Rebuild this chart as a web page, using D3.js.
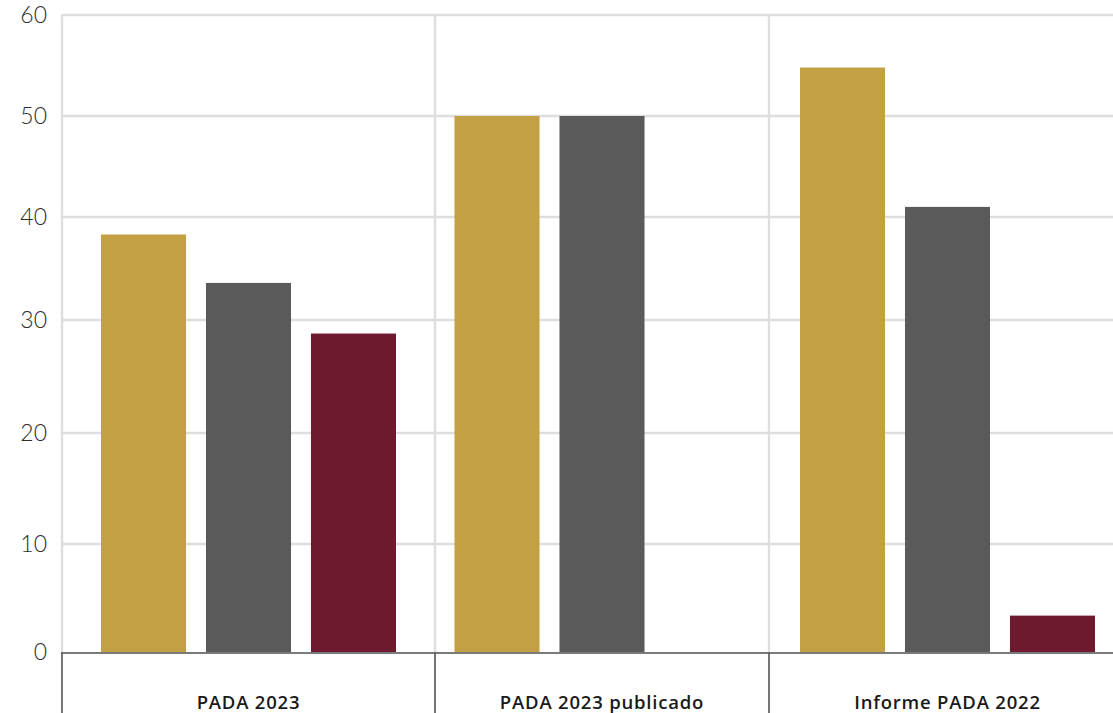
<!DOCTYPE html>
<html>
<head>
<meta charset="utf-8">
<script src="https://cdn.jsdelivr.net/npm/d3@7"></script>
<style>
  html, body { margin: 0; padding: 0; background: #fff; overflow: hidden; }
  svg { display: block; }
</style>
</head>
<body>
<svg id="chart" width="1113" height="713"></svg>
<script>
// Categories and the three series drawn in each group
const categories = ["PADA 2023", "PADA 2023 publicado", "Informe PADA 2022"];
const series1 = [38.3, 50, 54.8];
const series2 = [33.6, 50, 41];
const series3 = [28.8, 0, 3.4];
const seriesColors = ["#C4A044", "#5A5A5A", "#6E1A2E"];
const yTicks = [0, 10, 20, 30, 40, 50, 60];

const W = 1113, H = 713;
const svg = d3.select("#chart");

// Vertical value scale (piecewise, one stop per tick)
const y = d3.scaleLinear()
  .domain(yTicks)
  .range([652.5, 544, 433, 320, 217, 116, 15]);

// Category boundaries along x
const edge = d3.scaleLinear().domain([0, 1, 2, 3]).range([62, 435, 769, 1126]);
const plotLeft = edge(0);
const center = i => (edge(i) + edge(i + 1)) / 2;

// Bars inside each category
const inner = d3.scaleBand().domain([0, 1, 2]).range([-147.5, 147.5])
  .paddingInner(0.19).paddingOuter(0);

const rows = categories.map((c, i) => ({ cat: c, i, vals: [series1[i], series2[i], series3[i]] }));

// Horizontal grid
svg.append("g")
  .selectAll("line")
  .data(yTicks.filter(t => t > 0))
  .join("line")
  .attr("x1", plotLeft).attr("x2", W)
  .attr("y1", d => y(d)).attr("y2", d => y(d))
  .attr("stroke", "#dedede").attr("stroke-width", 2.4);

// Vertical grid at category boundaries
svg.append("g")
  .selectAll("line")
  .data([0, 1, 2])
  .join("line")
  .attr("x1", d => edge(d)).attr("x2", d => edge(d))
  .attr("y1", y(60) - 1).attr("y2", y(0))
  .attr("stroke", "#dedede").attr("stroke-width", 2.4);

// Bars
const groups = svg.append("g").selectAll("g")
  .data(rows)
  .join("g")
  .attr("transform", d => `translate(${center(d.i)},0)`);

groups.selectAll("rect")
  .data(d => d.vals.map((v, k) => ({ v, k })).filter(e => e.v > 0))
  .join("rect")
  .attr("x", e => inner(e.k))
  .attr("width", inner.bandwidth())
  .attr("y", e => y(e.v))
  .attr("height", e => y(0) - y(e.v))
  .attr("fill", e => seriesColors[e.k]);

// Y tick labels
svg.append("g")
  .selectAll("text")
  .data(yTicks)
  .join("text")
  .attr("x", 47)
  .attr("y", d => y(d) + 2)
  .attr("text-anchor", "end")
  .attr("dominant-baseline", "middle")
  .attr("font-family", "Lato, 'Open Sans', sans-serif")
  .attr("font-weight", 300)
  .attr("font-size", 23)
  .attr("fill", "#2e2e2e")
  .text(d => d);

// Baseline
svg.append("line")
  .attr("x1", plotLeft - 1).attr("x2", W)
  .attr("y1", y(0) + 0.5).attr("y2", y(0) + 0.5)
  .attr("stroke", "#7a7a7a").attr("stroke-width", 2);

// Category separators below the baseline
svg.append("g")
  .selectAll("line")
  .data([0, 1, 2])
  .join("line")
  .attr("x1", d => edge(d)).attr("x2", d => edge(d))
  .attr("y1", y(0)).attr("y2", H)
  .attr("stroke", "#555").attr("stroke-width", 1.6);

// Category labels
svg.append("g")
  .selectAll("text")
  .data(rows)
  .join("text")
  .attr("x", d => center(d.i))
  .attr("y", 709)
  .attr("text-anchor", "middle")
  .attr("font-family", "'Open Sans', sans-serif")
  .attr("font-weight", 600)
  .attr("font-size", 18.5)
  .attr("letter-spacing", 0.8)
  .attr("fill", "#1a1a1a")
  .text(d => d.cat);
</script>
</body>
</html>
